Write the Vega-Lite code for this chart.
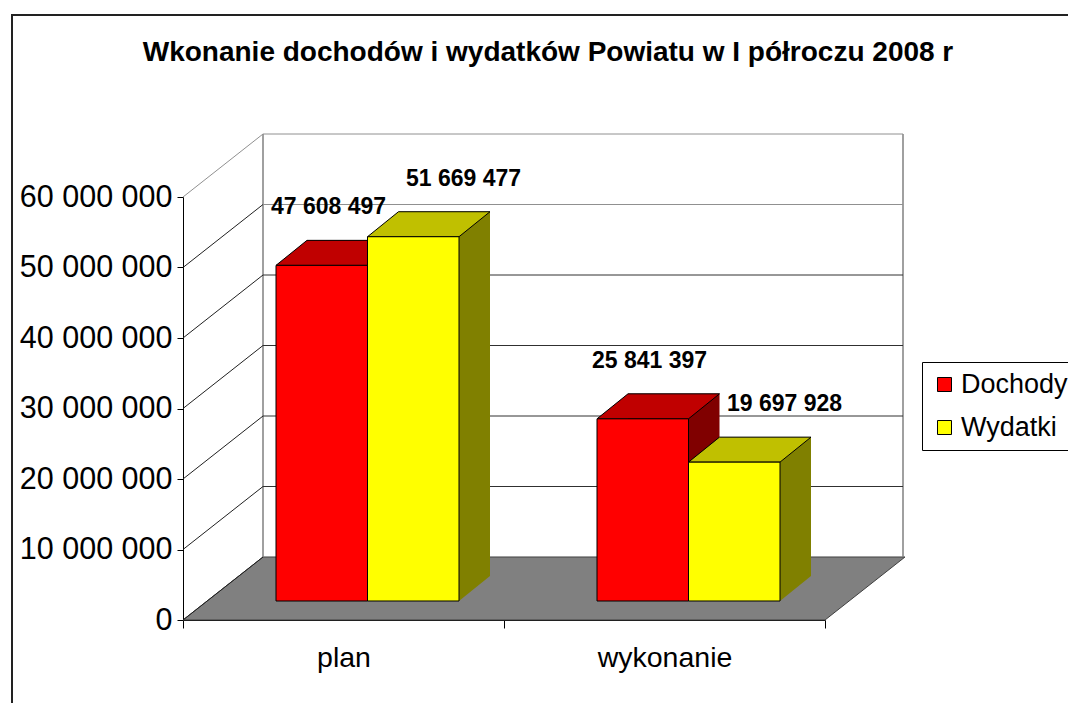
{
  "$schema": "https://vega.github.io/schema/vega-lite/v6.json",
  "autosize": "none",
  "width": 642,
  "height": 423,
  "padding": {"left": 183, "top": 197, "right": 243, "bottom": 83},
  "background": "white",
  "title": {
    "text": "Wkonanie dochodów i wydatków Powiatu w I półroczu 2008 r",
    "font": "Liberation Sans",
    "fontSize": 28,
    "fontWeight": "bold",
    "color": "black",
    "anchor": "middle",
    "frame": "group",
    "offset": 0,
    "dx": 44,
    "dy": 54
  },
  "datasets": {
    "dane": [
      {"kategoria": "plan", "seria": "Dochody", "wartosc": 47608497},
      {"kategoria": "plan", "seria": "Wydatki", "wartosc": 51669477},
      {"kategoria": "wykonanie", "seria": "Dochody", "wartosc": 25841397},
      {"kategoria": "wykonanie", "seria": "Wydatki", "wartosc": 19697928}
    ],
    "siatka": [
      {"v": 0}, {"v": 10000000}, {"v": 20000000}, {"v": 30000000},
      {"v": 40000000}, {"v": 50000000}, {"v": 60000000}
    ],
    "jeden": [{"k": 1}]
  },
  "layer": [
    {
      "data": {"name": "dane"},
      "transform": [{"filter": "datum.seria === 'Dochody'"}],
      "mark": {"type": "bar", "width": 91.5, "xOffset": -21.75, "yOffset": -19, "y2Offset": -19, "opacity": 0},
      "encoding": {
        "x": {
          "field": "kategoria",
          "type": "nominal",
          "scale": {"domain": ["plan", "wykonanie"], "paddingInner": 0, "paddingOuter": 0},
          "axis": {
            "title": null,
            "labelAngle": 0,
            "labelFont": "Liberation Sans",
            "labelFontSize": 28.5,
            "labelColor": "black",
            "tickBand": "extent",
            "tickSize": 8,
            "tickColor": "black",
            "domainColor": "black",
            "labelPadding": 15
          }
        },
        "y": {
          "field": "wartosc",
          "type": "quantitative",
          "scale": {"domain": [0, 60000000], "nice": false, "zero": true},
          "axis": {
            "title": null,
            "values": [0, 10000000, 20000000, 30000000, 40000000, 50000000, 60000000],
            "format": ",.0f",
            "grid": false,
            "labelFont": "Liberation Sans",
            "labelFontSize": 30.5,
            "labelColor": "black",
            "tickSize": 6,
            "tickColor": "black",
            "domainColor": "black",
            "labelPadding": 5
          }
        }
      }
    },
    {
      "data": {"name": "jeden"},
      "mark": {"type": "rule", "color": "#222222", "strokeWidth": 2, "xOffset": -171, "x2Offset": 892, "yOffset": -182},
      "encoding": {
        "x": {"datum": "plan", "type": "nominal", "bandPosition": 0, "title": null},
        "x2": {"datum": "plan", "bandPosition": 0},
        "y": {"datum": 60000000, "type": "quantitative", "title": null}
      }
    },
    {
      "data": {"name": "jeden"},
      "mark": {"type": "rule", "color": "#222222", "strokeWidth": 2, "xOffset": -171, "yOffset": -183, "y2Offset": 100},
      "encoding": {
        "x": {"datum": "plan", "type": "nominal", "bandPosition": 0, "title": null},
        "y": {"datum": 60000000, "type": "quantitative", "title": null},
        "y2": {"datum": 0}
      }
    },
    {
      "data": {"name": "jeden"},
      "mark": {"type": "point", "shape": "M-1,0.08726L0.7784,0.08726L1,-0.08726L-0.7784,-0.08726Z", "size": 521284, "filled": true, "opacity": 1, "fill": "#808080", "stroke": "#404040", "strokeWidth": 1, "xOffset": 40, "yOffset": -31.5},
      "encoding": {
        "x": {"datum": "wykonanie", "type": "nominal", "bandPosition": 0, "title": null},
        "y": {"datum": 0, "type": "quantitative", "title": null}
      }
    },
    {
      "data": {"name": "jeden"},
      "mark": {"type": "rule", "color": "#808080", "strokeWidth": 1.5, "xOffset": 80, "yOffset": -63, "y2Offset": -63},
      "encoding": {
        "x": {"datum": "plan", "type": "nominal", "bandPosition": 0, "title": null},
        "y": {"datum": 0, "type": "quantitative", "title": null},
        "y2": {"datum": 60000000}
      }
    },
    {
      "data": {"name": "jeden"},
      "mark": {"type": "rule", "color": "#808080", "strokeWidth": 1.5, "xOffset": 78, "yOffset": -63, "y2Offset": -63},
      "encoding": {
        "x": {"datum": "wykonanie", "type": "nominal", "bandPosition": 1, "title": null},
        "y": {"datum": 0, "type": "quantitative", "title": null},
        "y2": {"datum": 60000000}
      }
    },
    {
      "data": {"name": "siatka"},
      "transform": [{"filter": "datum.v > 0"}],
      "mark": {"type": "rule", "strokeWidth": 1, "xOffset": 80, "x2Offset": 78, "yOffset": -63},
      "encoding": {
        "x": {"datum": "plan", "type": "nominal", "bandPosition": 0, "title": null},
        "x2": {"datum": "wykonanie", "bandPosition": 1},
        "y": {"field": "v", "type": "quantitative", "title": null},
        "color": {"condition": {"test": "datum.v >= 50000000", "value": "#909090"}, "value": "#303030"}
      }
    },
    {
      "data": {"name": "siatka"},
      "mark": {"type": "rule", "strokeWidth": 1, "x2Offset": 80, "y2Offset": -63},
      "encoding": {
        "x": {"datum": "plan", "type": "nominal", "bandPosition": 0, "title": null},
        "x2": {"datum": "plan", "bandPosition": 0},
        "y": {"field": "v", "type": "quantitative", "title": null},
        "y2": {"field": "v"},
        "color": {"condition": {"test": "datum.v >= 60000000", "value": "#909090"}, "value": "#202020"}
      }
    },
    {
      "data": {"name": "dane"},
      "transform": [{"filter": "datum.seria === 'Dochody'"}],
      "mark": {"type": "bar", "width": 91.5, "fill": "#800000", "xOffset": 9.25, "yOffset": -44, "y2Offset": -44},
      "encoding": {
        "x": {"field": "kategoria", "type": "nominal", "title": null},
        "y": {"field": "wartosc", "type": "quantitative", "title": null}
      }
    },
    {
      "data": {"name": "dane"},
      "transform": [{"filter": "datum.seria === 'Wydatki'"}],
      "mark": {"type": "bar", "width": 91.5, "fill": "#808000", "xOffset": 100.75, "yOffset": -44, "y2Offset": -44},
      "encoding": {
        "x": {"field": "kategoria", "type": "nominal", "title": null},
        "y": {"field": "wartosc", "type": "quantitative", "title": null}
      }
    },
    {
      "data": {"name": "dane"},
      "transform": [{"filter": "datum.seria === 'Dochody'"}],
      "mark": {"type": "point", "shape": "M-1,-0.8065L-1,0.8065L1,-0.8065Z", "size": 961, "filled": true, "opacity": 1, "fill": "#800000", "strokeWidth": 0, "xOffset": 39.5, "yOffset": -31.5},
      "encoding": {
        "x": {"field": "kategoria", "type": "nominal", "title": null},
        "y": {"datum": 0, "type": "quantitative", "title": null}
      }
    },
    {
      "data": {"name": "dane"},
      "transform": [{"filter": "datum.seria === 'Wydatki'"}],
      "mark": {"type": "point", "shape": "M-1,-0.8065L-1,0.8065L1,-0.8065Z", "size": 961, "filled": true, "opacity": 1, "fill": "#808000", "strokeWidth": 0, "xOffset": 131, "yOffset": -31.5},
      "encoding": {
        "x": {"field": "kategoria", "type": "nominal", "title": null},
        "y": {"datum": 0, "type": "quantitative", "title": null}
      }
    },
    {
      "data": {"name": "dane"},
      "transform": [{"filter": "datum.seria === 'Dochody'"}],
      "mark": {"type": "point", "shape": "M-1,0.2041L0.4939,0.2041L1,-0.2041L-0.4939,-0.2041Z", "size": 15006.25, "filled": true, "opacity": 1, "fill": "#C00000", "stroke": "black", "strokeWidth": 1, "xOffset": -6.25, "yOffset": -31.5},
      "encoding": {
        "x": {"field": "kategoria", "type": "nominal", "title": null},
        "y": {"field": "wartosc", "type": "quantitative", "title": null}
      }
    },
    {
      "data": {"name": "dane"},
      "transform": [{"filter": "datum.seria === 'Wydatki'"}],
      "mark": {"type": "point", "shape": "M-1,0.2041L0.4939,0.2041L1,-0.2041L-0.4939,-0.2041Z", "size": 15006.25, "filled": true, "opacity": 1, "fill": "#C0C000", "stroke": "black", "strokeWidth": 1, "xOffset": 85.25, "yOffset": -31.5},
      "encoding": {
        "x": {"field": "kategoria", "type": "nominal", "title": null},
        "y": {"field": "wartosc", "type": "quantitative", "title": null}
      }
    },
    {
      "data": {"name": "dane"},
      "transform": [{"filter": "datum.seria === 'Dochody'"}],
      "mark": {"type": "bar", "width": 91.5, "stroke": "black", "strokeWidth": 1, "xOffset": -21.75, "yOffset": -19, "y2Offset": -19},
      "encoding": {
        "x": {"field": "kategoria", "type": "nominal", "title": null},
        "y": {"field": "wartosc", "type": "quantitative", "title": null},
        "color": {
          "field": "seria",
          "type": "nominal",
          "scale": {"domain": ["Dochody", "Wydatki"], "range": ["#FF0000", "#FFFF00"]},
          "legend": {
            "title": null,
            "orient": "none",
            "legendX": 739,
            "legendY": 165,
            "padding": 9,
            "strokeColor": "#000000",
            "fillColor": "white",
            "symbolType": "square",
            "symbolSize": 196,
            "symbolStrokeColor": "#000000",
            "symbolStrokeWidth": 1,
            "labelFont": "Liberation Sans",
            "labelFontSize": 27,
            "labelColor": "black",
            "labelOffset": 3,
            "rowPadding": 15
          }
        }
      }
    },
    {
      "data": {"name": "dane"},
      "transform": [{"filter": "datum.seria === 'Wydatki'"}],
      "mark": {"type": "bar", "width": 91.5, "stroke": "black", "strokeWidth": 1, "xOffset": 69.75, "yOffset": -19, "y2Offset": -19},
      "encoding": {
        "x": {"field": "kategoria", "type": "nominal", "title": null},
        "y": {"field": "wartosc", "type": "quantitative", "title": null},
        "color": {"field": "seria", "type": "nominal"}
      }
    },
    {
      "data": {"name": "dane"},
      "transform": [{"filter": "datum.seria === 'Dochody'"}],
      "mark": {"type": "text", "font": "Liberation Sans", "fontSize": 23, "fontWeight": "bold", "color": "black", "align": "center", "baseline": "alphabetic", "dx": -15, "dy": -70},
      "encoding": {
        "x": {"field": "kategoria", "type": "nominal", "title": null},
        "y": {"field": "wartosc", "type": "quantitative", "title": null},
        "text": {"field": "wartosc", "type": "quantitative", "format": ",.0f"}
      }
    },
    {
      "data": {"name": "dane"},
      "transform": [{"filter": "datum.seria === 'Wydatki'"}],
      "mark": {"type": "text", "font": "Liberation Sans", "fontSize": 23, "fontWeight": "bold", "color": "black", "align": "center", "baseline": "alphabetic", "dx": 120, "dy": -70},
      "encoding": {
        "x": {"field": "kategoria", "type": "nominal", "title": null},
        "y": {"field": "wartosc", "type": "quantitative", "title": null},
        "text": {"field": "wartosc", "type": "quantitative", "format": ",.0f"}
      }
    }
  ],
  "config": {
    "locale": {"number": {"decimal": ",", "thousands": " ", "grouping": [3], "currency": ["", " zł"]}},
    "view": {"stroke": null},
    "font": "Liberation Sans"
  }
}
